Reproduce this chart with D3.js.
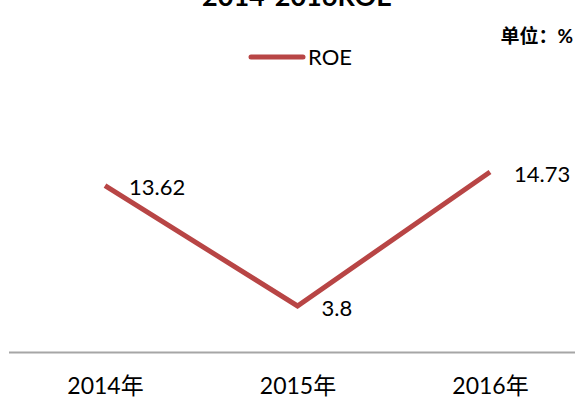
<!DOCTYPE html>
<html>
<head>
<meta charset="utf-8">
<script src="https://cdn.jsdelivr.net/npm/d3@7"></script>
<style>
  body { margin: 0; background: #fff; }
  svg { display: block; font-family: Lato, "Noto Sans CJK SC", sans-serif; }
</style>
</head>
<body>
<div id="root"></div>
<script>
// DATA
let years = ['2014年', '2015年', '2016年'];
let roeValues = [13.62, 3.8, 14.73];
let seriesName = 'ROE';
let chartTitle = '2014-2016ROE';
let unitLabel = '单位：%';

// DIMENSIONS
let width = 575,
    height = 400;

let svg = d3
  .select('#root')
  .append('svg')
  .attr('width', width)
  .attr('height', height);

// Scales
let xScale = d3
  .scalePoint()
  .domain(years)
  .range([105, 490]);

let yScale = d3
  .scaleLinear()
  .domain([0, 16])
  .range([352.5, 156.5]);

// Title (cut off at the top, as in the source)
svg.append('text')
  .attr('x', 297)
  .attr('y', 6)
  .attr('text-anchor', 'middle')
  .style('font-weight', 'bold')
  .style('font-size', '27px')
  .text(chartTitle);

// unit
svg.append('text')
  .attr('x', 573)
  .attr('y', 43)
  .attr('text-anchor', 'end')
  .style('font-weight', 'bold')
  .style('font-size', '19px')
  .text(unitLabel);

// Legend
let legend = svg.append('g').attr('transform', 'translate(251, 57)');
legend.append('line')
  .attr('x1', 0)
  .attr('x2', 52)
  .attr('stroke', '#b84545')
  .attr('stroke-width', 5)
  .attr('stroke-linecap', 'round');
legend.append('text')
  .attr('x', 57)
  .attr('dy', '0.35em')
  .style('font-size', '22px')
  .text(seriesName);

// x axis
let xAxis = svg.append('g')
  .attr('transform', `translate(0, ${yScale(0)})`)
  .call(d3.axisBottom(xScale).tickSize(0).tickPadding(25));
xAxis.select('.domain')
  .attr('d', 'M9,0H' + width)
  .attr('stroke', '#a6a6a6')
  .attr('stroke-width', 2);
xAxis.selectAll('text')
  .style('font-family', 'Lato, "Noto Sans CJK SC", sans-serif')
  .style('font-size', '23px')
  .style('fill', '#000');

// Line
let line = d3.line()
  .x((d, i) => xScale(years[i]))
  .y((d) => yScale(d));

svg.append('path')
  .datum(roeValues)
  .attr('fill', 'none')
  .attr('stroke', '#b84545')
  .attr('stroke-width', 5)
  .attr('stroke-linejoin', 'miter')
  .attr('d', line);

// data labels
svg.selectAll('.lbl')
  .data(roeValues)
  .enter()
  .append('text')
  .attr('class', 'lbl')
  .attr('x', (d, i) => xScale(years[i]) + 24)
  .attr('y', (d) => yScale(d) + 2)
  .attr('dy', '0.35em')
  .style('font-size', '22px')
  .text((d) => d);
</script>
</body>
</html>
